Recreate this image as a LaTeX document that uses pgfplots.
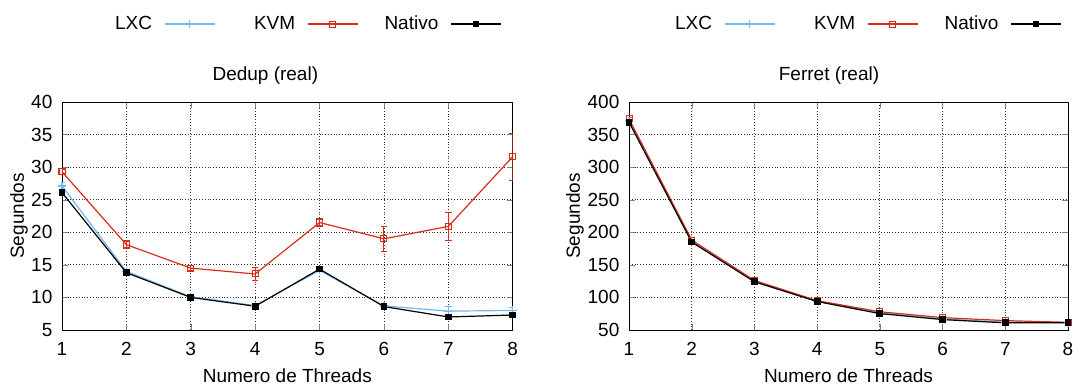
\documentclass[border=0pt]{standalone}
\usepackage{fontspec}
\setmainfont{Liberation Sans}
\usepackage{pgfplots}
\pgfplotsset{compat=1.18}
\definecolor{lxcblue}{RGB}{110,185,245}
\definecolor{kvmred}{RGB}{215,45,25}
\newcommand{\legtext}[1]{\makebox[28pt][r]{#1}}
\pgfplotsset{
  common/.style={
    scale only axis,
    anchor=south west,
    height=114pt,
    xmin=1, xmax=8,
    xtick={1,2,3,4,5,6,7,8},
    font=\fontsize{9.5}{11}\selectfont,
    /pgf/number format/assume math mode=true,
    tick align=inside,
    major tick length=3pt,
    axis line style={line width=0.5pt},
    grid=major,
    grid style={densely dotted, black!80, line width=0.4pt},
    xticklabel style={yshift=-2.8pt},
    yticklabel style={xshift=-1.3pt},
    every axis x label/.style={at={(axis description cs:0.5,0)}, anchor=center, yshift=-23pt},
    xlabel={Numero de Threads},
    ylabel={Segundos},
    every axis title/.style={at={(axis description cs:0.5,1)}, anchor=center, yshift=13pt},
    legend columns=3,
    legend plot pos=right,
    legend style={draw=none, fill=none, inner sep=0pt, at={(axis description cs:1,1)}, anchor=east, yshift=39pt,
      nodes={inner sep=0pt},
      /tikz/every odd column/.append style={column sep=6pt},
      /tikz/every even column/.append style={column sep=12pt},
      font=\fontsize{9.5}{11}\selectfont},
    legend image code/.code={\draw[mark repeat=2,mark phase=2,#1] plot coordinates {(0pt,0pt) (12.5pt,0pt) (25pt,0pt)};},
    error bars/y dir=both,
    error bars/y explicit,
    error bars/error bar style={line width=0.5pt},
    error bars/error mark options={rotate=90, mark size=1.6pt, line width=0.5pt},
  },
  lxc/.style={color=lxcblue, line width=0.6pt, mark=+, mark size=2pt},
  kvm/.style={color=kvmred, line width=0.6pt, mark=square, mark size=1.5pt, mark options={line width=0.5pt}},
  nat/.style={color=black, line width=0.6pt, mark=square*, mark size=1.4pt},
}
\begin{document}
\begin{tikzpicture}
\path[use as bounding box] (0,0) rectangle (537pt,193.5pt);
\begin{axis}[common,
  at={(31pt,28.5pt)}, width=225.35pt,
  ymin=5, ymax=40, ytick={5,10,15,20,25,30,35,40},
  title={Dedup (real)}, title style={xshift=-11pt},
  every axis y label/.style={at={(axis description cs:-0.0954,0.5)}, rotate=90, anchor=center},
  legend style={xshift=-5.35pt},
]
\addplot[lxc] table[y error=e] {
x y e
1 27.1 0.5
2 14.0 0.3
3 10.1 0.2
4 8.75 0.3
5 14.15 0.2
6 8.7 0.2
7 7.9 0.7
8 8.0 0.4
};
\addlegendentry{\legtext{LXC}}
\addplot[kvm] table[y error=e] {
x y e
1 29.3 0.3
2 18.1 0.6
3 14.5 0.4
4 13.6 1.0
5 21.5 0.6
6 19.0 1.9
7 20.9 2.1
8 31.6 3.6
};
\addlegendentry{\legtext{KVM}}
\addplot[nat] table[y error=e] {
x y e
1 26.1 0.1
2 13.8 0.1
3 10.0 0.1
4 8.65 0.1
5 14.35 0.1
6 8.6 0.1
7 7.0 0.1
8 7.3 0.1
};
\addlegendentry{\legtext{Nativo}}
\end{axis}
\begin{axis}[common,
  at={(314.5pt,28.5pt)}, width=219.5pt,
  ymin=50, ymax=400, ytick={50,100,150,200,250,300,350,400},
  title={Ferret (real)}, title style={xshift=-9.75pt},
  every axis y label/.style={at={(axis description cs:-0.123,0.5)}, rotate=90, anchor=center},
  legend style={xshift=-3pt},
]
\addplot[lxc] table[y error=e] {
x y e
1 371 1
2 186 1
3 125 1
4 94 0.5
5 76.5 0.5
6 67 0.5
7 62 0.5
8 61.5 0.5
};
\addlegendentry{\legtext{LXC}}
\addplot[kvm] table[y error=e] {
x y e
1 374 2
2 188 1
3 126 1
4 95 0.5
5 78 0.5
6 69 0.5
7 64.4 0.5
8 61.8 0.5
};
\addlegendentry{\legtext{KVM}}
\addplot[nat] table[y error=e] {
x y e
1 369 1
2 185 1
3 124 1
4 93.7 0.5
5 75.2 0.5
6 66 0.5
7 61 0.5
8 61.3 0.5
};
\addlegendentry{\legtext{Nativo}}
\end{axis}
\end{tikzpicture}
\end{document}
